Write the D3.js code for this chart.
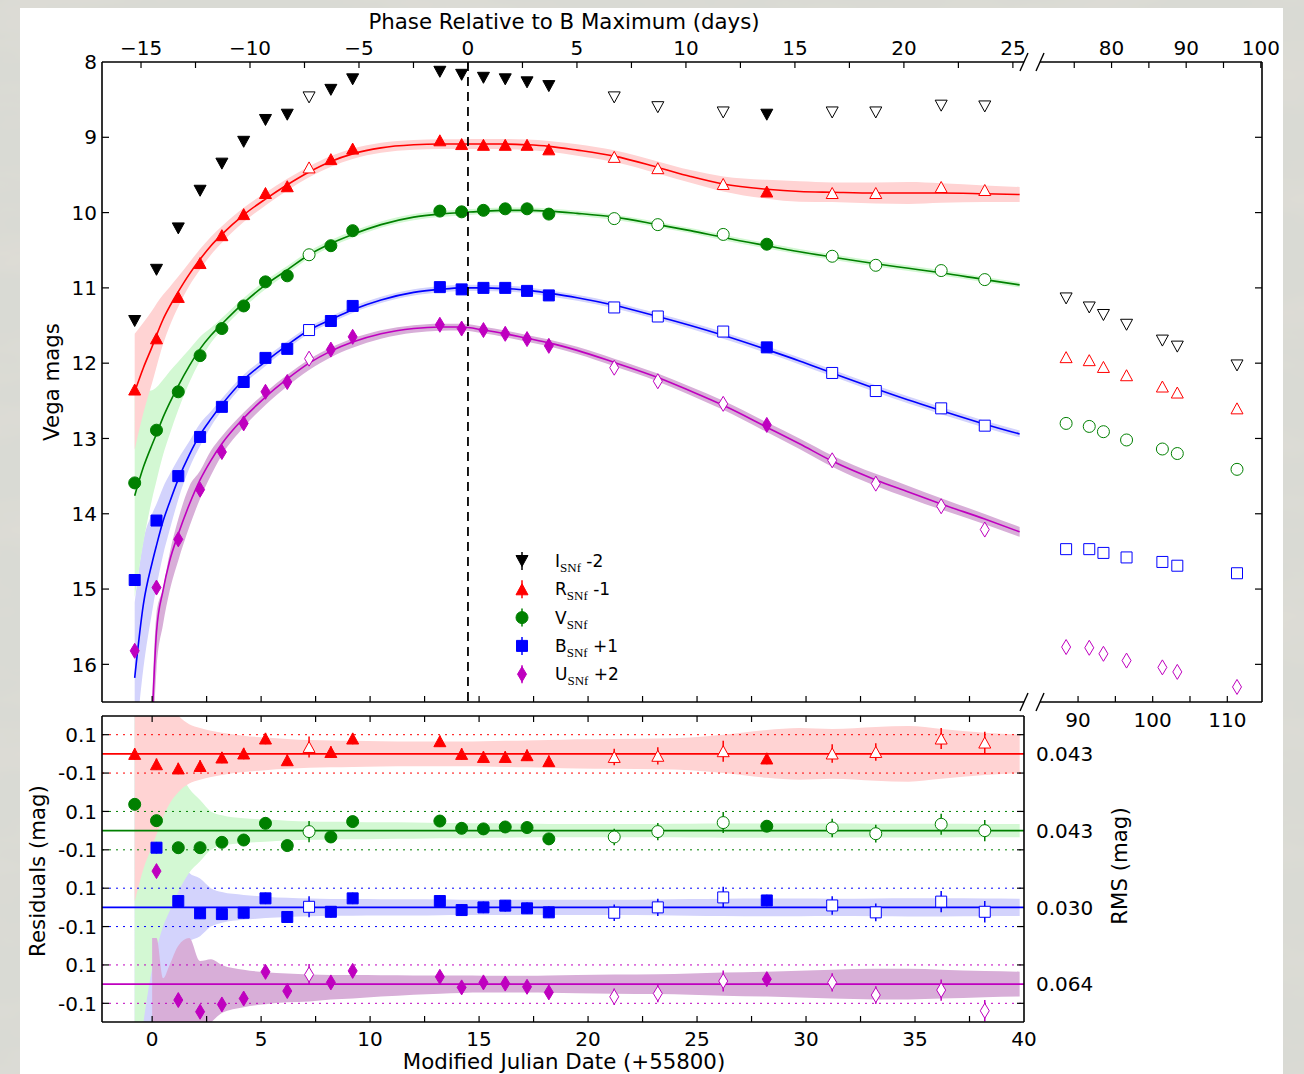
<!DOCTYPE html>
<html>
<head>
<meta charset="utf-8">
<script src="https://cdn.jsdelivr.net/npm/d3@7"></script>
<style>
  html, body { margin: 0; padding: 0; background: #dcdcd6; }
  svg { display: block; }
</style>
</head>
<body>
<svg id="chart" width="1304" height="1074"></svg>
<script>
// ---------------- data ----------------
// Epochs of the SNfactory spectrophotometry, MJD - 55800
const obsMjd  = [-0.8, 0.2, 1.2, 2.2, 3.2, 4.2, 5.2, 6.2, 7.2, 8.2, 9.2, 13.2, 14.2, 15.2, 16.2, 17.2, 18.2, 21.2, 23.2, 26.2, 28.2, 31.2, 33.2, 36.2, 38.2];
// 1 = open symbol, 0 = filled symbol
const obsOpen = [0, 0, 0, 0, 0, 0, 0, 0, 1, 0, 0, 0, 0, 0, 0, 0, 0, 1, 1, 1, 0, 1, 1, 1, 1];

// synthetic magnitudes as plotted (I-2, R-1, V, B+1, U+2)
const magI = [11.44, 10.76, 10.21, 9.71, 9.35, 9.06, 8.77, 8.70, 8.47, 8.37, 8.23, 8.13, 8.17, 8.21, 8.23, 8.27, 8.32, 8.47, 8.60, 8.67, 8.70, 8.67, 8.67, 8.58, 8.59];
const magR = [12.35, 11.67, 11.12, 10.67, 10.30, 10.02, 9.74, 9.65, 9.40, 9.29, 9.15, 9.04, 9.09, 9.10, 9.10, 9.10, 9.16, 9.26, 9.41, 9.62, 9.72, 9.74, 9.74, 9.66, 9.70];
const magV = [13.59, 12.89, 12.38, 11.90, 11.54, 11.24, 10.92, 10.84, 10.56, 10.44, 10.24, 9.98, 9.99, 9.97, 9.95, 9.95, 10.02, 10.08, 10.16, 10.29, 10.42, 10.58, 10.70, 10.77, 10.89];
const magB = [14.88, 14.09, 13.50, 12.98, 12.58, 12.25, 11.93, 11.81, 11.56, 11.44, 11.24, 10.99, 11.02, 11.00, 11.00, 11.04, 11.10, 11.26, 11.38, 11.58, 11.79, 12.13, 12.37, 12.60, 12.83];
const magU = [15.82, 14.98, 14.34, 13.68, 13.18, 12.80, 12.38, 12.25, 11.94, 11.82, 11.65, 11.49, 11.54, 11.56, 11.61, 11.68, 11.77, 12.06, 12.24, 12.54, 12.82, 13.29, 13.60, 13.90, 14.21];

// late-time epochs (right-hand panel)
const lateMjd = [88.4, 91.5, 93.4, 96.5, 101.3, 103.3, 111.3];
const lateI = [11.14, 11.26, 11.36, 11.49, 11.70, 11.78, 12.03];
const lateR = [11.92, 11.96, 12.05, 12.16, 12.31, 12.39, 12.60];
const lateV = [12.80, 12.84, 12.91, 13.02, 13.14, 13.20, 13.41];
const lateB = [14.47, 14.47, 14.52, 14.58, 14.64, 14.69, 14.79];
const lateU = [15.77, 15.78, 15.86, 15.95, 16.04, 16.10, 16.30];

// light-curve model, sampled on a common grid
const modelMjd = [-0.8, -0.4, 0.0, 0.2, 0.5, 0.8, 1.2, 1.7, 2.2, 2.7, 3.2, 4.2, 5.2, 6.2, 7.2, 8.2, 9.2, 10.5, 12.0, 13.2, 14.2, 15.2, 16.2, 17.2, 18.2, 19.5, 21.2, 23.2, 24.7, 26.2, 28.2, 29.7, 31.2, 33.2, 34.7, 36.2, 38.2, 39.8];
const modelR = [12.38, 12.06, 11.78, 11.63, 11.42, 11.25, 11.05, 10.82, 10.62, 10.44, 10.29, 10.03, 9.82, 9.63, 9.46, 9.32, 9.22, 9.14, 9.10, 9.09, 9.09, 9.09, 9.09, 9.10, 9.12, 9.17, 9.25, 9.40, 9.52, 9.62, 9.69, 9.72, 9.73, 9.74, 9.74, 9.74, 9.75, 9.76];
const modelV = [13.76, 13.38, 13.08, 12.94, 12.72, 12.53, 12.30, 12.04, 11.81, 11.63, 11.48, 11.20, 10.96, 10.76, 10.56, 10.41, 10.29, 10.16, 10.06, 10.02, 10.00, 9.98, 9.97, 9.97, 9.98, 10.01, 10.06, 10.16, 10.24, 10.33, 10.44, 10.52, 10.59, 10.68, 10.74, 10.80, 10.89, 10.96];
const modelB = [16.18, 15.20, 14.65, 14.42, 14.10, 13.85, 13.54, 13.22, 12.95, 12.74, 12.55, 12.22, 11.98, 11.76, 11.56, 11.42, 11.29, 11.16, 11.06, 11.02, 11.00, 11.00, 11.01, 11.03, 11.07, 11.13, 11.23, 11.38, 11.50, 11.63, 11.82, 11.97, 12.13, 12.34, 12.49, 12.63, 12.81, 12.94];
const modelU = [null, null, 16.75, 15.57, 15.02, 14.63, 14.27, 13.88, 13.55, 13.29, 13.07, 12.73, 12.45, 12.21, 12.00, 11.84, 11.72, 11.61, 11.54, 11.52, 11.52, 11.56, 11.61, 11.67, 11.73, 11.83, 11.99, 12.19, 12.37, 12.56, 12.85, 13.07, 13.30, 13.55, 13.71, 13.87, 14.07, 14.24];

// model uncertainty on the same grid: brighter-side and fainter-side widths (mag)
const bandRUp  = [0.77, 0.60, 0.48, 0.42, 0.33, 0.26, 0.20, 0.155, 0.135, 0.12, 0.11, 0.095, 0.085, 0.078, 0.072, 0.070, 0.068, 0.066, 0.065, 0.065, 0.065, 0.066, 0.068, 0.070, 0.072, 0.076, 0.078, 0.080, 0.085, 0.100, 0.125, 0.135, 0.130, 0.140, 0.145, 0.130, 0.110, 0.100];
const bandRLow = bandRUp;
const bandVUp  = [1.35, 1.00, 0.72, 0.62, 0.50, 0.42, 0.32, 0.22, 0.16, 0.10, 0.08, 0.065, 0.058, 0.052, 0.048, 0.046, 0.045, 0.043, 0.042, 0.040, 0.040, 0.038, 0.037, 0.036, 0.035, 0.035, 0.035, 0.035, 0.036, 0.037, 0.037, 0.037, 0.037, 0.036, 0.036, 0.036, 0.035, 0.035];
const bandVLow = bandVUp;
const bandBUp  = [1.00, 0.85, 0.65, 0.55, 0.45, 0.37, 0.27, 0.18, 0.15, 0.10, 0.08, 0.065, 0.056, 0.050, 0.046, 0.044, 0.043, 0.042, 0.042, 0.041, 0.040, 0.040, 0.040, 0.040, 0.040, 0.040, 0.040, 0.041, 0.043, 0.045, 0.046, 0.046, 0.045, 0.046, 0.047, 0.047, 0.046, 0.045];
const bandBLow = bandBUp;
const bandUUp  = [null, null, 0.24, 0.24, 0.03, 0.10, 0.20, 0.24, 0.12, 0.13, 0.10, 0.075, 0.062, 0.055, 0.050, 0.048, 0.047, 0.046, 0.045, 0.045, 0.045, 0.044, 0.044, 0.044, 0.045, 0.048, 0.050, 0.052, 0.056, 0.060, 0.065, 0.070, 0.075, 0.080, 0.080, 0.075, 0.068, 0.065];
const bandULow = [null, null, 0.50, 0.50, 0.45, 0.40, 0.35, 0.30, 0.25, 0.20, 0.15, 0.12, 0.105, 0.095, 0.09, 0.08, 0.075, 0.065, 0.055, 0.050, 0.046, 0.044, 0.044, 0.044, 0.045, 0.048, 0.050, 0.052, 0.056, 0.060, 0.065, 0.070, 0.075, 0.080, 0.080, 0.075, 0.068, 0.065];

// residuals (model - data, mag) and their errors
const resR = [0.000, -0.054, -0.076, -0.063, -0.019, 0.002, 0.080, -0.033, 0.036, 0.010, 0.080, 0.066, 0.000, -0.016, -0.016, -0.007, -0.038, -0.016, -0.010, 0.014, -0.024, 0.002, 0.010, 0.080, 0.059];
const resV = [0.137, 0.052, -0.089, -0.089, -0.061, -0.049, 0.038, -0.078, -0.005, -0.033, 0.047, 0.050, 0.012, 0.009, 0.019, 0.016, -0.043, -0.033, -0.005, 0.042, 0.023, 0.014, -0.016, 0.033, 0.000];
const resB = [null, 0.311, 0.033, -0.031, -0.035, -0.028, 0.047, -0.050, 0.003, -0.023, 0.047, 0.033, -0.014, 0.000, 0.009, -0.005, -0.026, -0.028, 0.000, 0.052, 0.036, 0.010, -0.026, 0.030, -0.023];
const resU = [null, 0.589, -0.083, -0.144, -0.106, -0.075, 0.064, -0.036, 0.050, 0.009, 0.069, 0.038, -0.017, 0.009, 0.003, -0.014, -0.043, -0.066, -0.049, 0.016, 0.026, 0.009, -0.057, -0.031, -0.139];
const resErr = [0.03, 0.03, 0.03, 0.03, 0.03, 0.03, 0.03, 0.03, 0.055, 0.03, 0.03, 0.03, 0.03, 0.03, 0.03, 0.03, 0.03, 0.043, 0.045, 0.055, 0.03, 0.048, 0.046, 0.055, 0.056];

// RMS of the residuals per band (R, V, B, U)
const rmsText = ["0.043", "0.043", "0.030", "0.064"];

// date of B-band maximum (MJD - 55800)
const bMaxMjd = 14.49;

// tick values
const mainMjdTicks  = d3.range(-2.5, 40.01, 2.5);
const mjdLabels     = [0, 5, 10, 15, 20, 25, 30, 35, 40];
const phaseTicks    = d3.range(-17.5, 25.6, 2.5);
const phaseLabels   = [-15, -10, -5, 0, 5, 10, 15, 20, 25];
const lateMjdTicks  = [85, 90, 95, 100, 105, 110];
const lateMjdLabels = [90, 100, 110];
const latePhaseTicks  = [75, 80, 85, 90, 95, 100];
const latePhaseLabels = [80, 90, 100];
const magTicks = [8, 9, 10, 11, 12, 13, 14, 15, 16];
const resTicks = [0.1, -0.1];

// ---------------- layout ----------------
const FONT = "'DejaVu Sans', 'Liberation Sans', sans-serif";
const main = { left: 102, right: 1024, top: 62, bottom: 702 };
const late = { left: 1040, right: 1262 };
const resP = { top: 716, bottom: 1022 };

const xMain = d3.scaleLinear().domain([-2.3, 40]).range([main.left, main.right]);
const xPhase = d3.scaleLinear().domain([-2.3 - bMaxMjd, 40 - bMaxMjd]).range([main.left, main.right]);
const xLate = d3.scaleLinear().domain([84.9, 114.65]).range([late.left, late.right]);
const xLatePhase = d3.scaleLinear().domain([84.9 - bMaxMjd, 114.65 - bMaxMjd]).range([late.left, late.right]);
const yMag = d3.scaleLinear().domain([8, 16.5]).range([main.top, main.bottom]);
const yRes = d3.scaleLinear().domain([-0.2, 1.4]).range([1022.5, 715.5]);

// per-filter styling, assembled from the arrays above
const filters = [
  { key: "I", color: "#000000", fill: null,      shape: "tdown", mags: magI, late: lateI },
  { key: "R", color: "#ff0000", fill: "#ffd3d3", shape: "tup",   mags: magR, late: lateR, model: modelR, up: bandRUp, low: bandRLow, res: resR, off: 1.2, rms: rmsText[0] },
  { key: "V", color: "#008000", fill: "#d3f8d3", shape: "circ",  mags: magV, late: lateV, model: modelV, up: bandVUp, low: bandVLow, res: resV, off: 0.8, rms: rmsText[1] },
  { key: "B", color: "#0000ff", fill: "#d3d3fc", shape: "sq",    mags: magB, late: lateB, model: modelB, up: bandBUp, low: bandBLow, res: resB, off: 0.4, rms: rmsText[2] },
  { key: "U", color: "#bf00bf", fill: "#d8aed8", shape: "dia",   mags: magU, late: lateU, model: modelU, up: bandUUp, low: bandULow, res: resU, off: 0.0, rms: rmsText[3] }
];
const byKey = Object.fromEntries(filters.map(f => [f.key, f]));

// marker outlines
function markerPath(shape, cx, cy) {
  switch (shape) {
    case "tup":   { const w = 12, h = 11; return `M${cx},${cy - h / 2}L${cx + w / 2},${cy + h / 2}L${cx - w / 2},${cy + h / 2}Z`; }
    case "tdown": { const w = 12, h = 11; return `M${cx},${cy + h / 2}L${cx + w / 2},${cy - h / 2}L${cx - w / 2},${cy - h / 2}Z`; }
    case "circ":  { const r = 6; return `M${cx - r},${cy}a${r},${r} 0 1,0 ${2 * r},0a${r},${r} 0 1,0 ${-2 * r},0Z`; }
    case "sq":    { const s = 11; return `M${cx - s / 2},${cy - s / 2}h${s}v${s}h${-s}Z`; }
    case "dia":   { const w = 9, h = 15; return `M${cx},${cy - h / 2}L${cx + w / 2},${cy}L${cx},${cy + h / 2}L${cx - w / 2},${cy}Z`; }
  }
}

const svg = d3.select("#chart");
const defs = svg.append("defs");

// marbled backdrop
const flt = defs.append("filter").attr("id", "marble").attr("x", 0).attr("y", 0).attr("width", "100%").attr("height", "100%");
flt.append("feTurbulence").attr("type", "fractalNoise").attr("baseFrequency", "0.006 0.018").attr("numOctaves", 4).attr("seed", 11).attr("result", "n");
flt.append("feColorMatrix").attr("in", "n").attr("type", "matrix")
  .attr("values", "0 0 0 0 0.74  0 0 0 0 0.72  0 0 0 0 0.67  1.6 0 0 0 -0.70");
svg.append("rect").attr("width", 1304).attr("height", 1074).attr("fill", "#d9dad4");
svg.append("rect").attr("width", 1304).attr("height", 1074).attr("filter", "url(#marble)");

// white card
svg.append("rect").attr("x", 20).attr("y", 8).attr("width", 1263).attr("height", 1070).attr("fill", "#ffffff");

// clip regions
defs.append("clipPath").attr("id", "clipMain").append("rect")
  .attr("x", main.left).attr("y", main.top).attr("width", main.right - main.left).attr("height", main.bottom - main.top);
defs.append("clipPath").attr("id", "clipLate").append("rect")
  .attr("x", late.left).attr("y", main.top).attr("width", late.right - late.left).attr("height", main.bottom - main.top);
defs.append("clipPath").attr("id", "clipRes").append("rect")
  .attr("x", main.left).attr("y", resP.top).attr("width", main.right - main.left).attr("height", resP.bottom - resP.top);

// ---------------- upper panel: light curves ----------------
const gMain = svg.append("g").attr("clip-path", "url(#clipMain)");
const bandOrder = ["B", "V", "U", "R"];

function modelRows(f) {
  return modelMjd.map((m, i) => ({ m, v: f.model[i], up: f.up[i], low: f.low[i] }));
}

bandOrder.forEach(k => {
  const f = byKey[k];
  const area = d3.area()
    .defined(d => d.v != null)
    .x(d => xMain(d.m))
    .y0(d => yMag(d.v + d.low))
    .y1(d => yMag(d.v - d.up))
    .curve(d3.curveMonotoneX);
  gMain.append("path").attr("d", area(modelRows(f))).attr("fill", f.fill);
});

["R", "V", "B", "U"].forEach(k => {
  const f = byKey[k];
  const line = d3.line()
    .defined(d => d.v != null)
    .x(d => xMain(d.m))
    .y(d => yMag(d.v))
    .curve(d3.curveMonotoneX);
  gMain.append("path").attr("d", line(modelRows(f)))
    .attr("fill", "none").attr("stroke", f.color).attr("stroke-width", 1.6);
});

filters.forEach(f => {
  gMain.append("g").selectAll("path")
    .data(obsMjd.map((m, i) => ({ m, v: f.mags[i], open: obsOpen[i] })))
    .join("path")
    .attr("d", d => markerPath(f.shape, xMain(d.m), yMag(d.v)))
    .attr("fill", d => d.open ? "#ffffff" : f.color)
    .attr("stroke", f.color).attr("stroke-width", 1);
});

// time of B maximum
svg.append("line")
  .attr("x1", xMain(bMaxMjd)).attr("x2", xMain(bMaxMjd))
  .attr("y1", main.top).attr("y2", main.bottom)
  .attr("stroke", "#000").attr("stroke-width", 1.8).attr("stroke-dasharray", "9,6");

// late-time points
const gLate = svg.append("g").attr("clip-path", "url(#clipLate)");
filters.forEach(f => {
  gLate.append("g").selectAll("path")
    .data(lateMjd.map((m, i) => ({ m, v: f.late[i] })))
    .join("path")
    .attr("d", d => markerPath(f.shape, xLate(d.m), yMag(d.v)))
    .attr("fill", "#ffffff").attr("stroke", f.color).attr("stroke-width", 1);
});

// ---------------- lower panel: residuals ----------------
const gRes = svg.append("g").attr("clip-path", "url(#clipRes)");
bandOrder.forEach(k => {
  const f = byKey[k];
  const area = d3.area()
    .defined(d => d.v != null)
    .x(d => xMain(d.m))
    .y0(d => yRes(f.off - d.low))
    .y1(d => yRes(f.off + d.up))
    .curve(d3.curveMonotoneX);
  gRes.append("path").attr("d", area(modelRows(f))).attr("fill", f.fill);
});

["R", "V", "B", "U"].forEach(k => {
  const f = byKey[k];
  resTicks.forEach(t => {
    gRes.append("line")
      .attr("x1", main.left).attr("x2", main.right)
      .attr("y1", yRes(f.off + t)).attr("y2", yRes(f.off + t))
      .attr("stroke", f.color).attr("stroke-width", 1).attr("stroke-dasharray", "2,5");
  });
  gRes.append("line")
    .attr("x1", main.left).attr("x2", main.right)
    .attr("y1", yRes(f.off)).attr("y2", yRes(f.off))
    .attr("stroke", f.color).attr("stroke-width", 1.6);
});

["R", "V", "B", "U"].forEach(k => {
  const f = byKey[k];
  const pts = obsMjd.map((m, i) => ({ m, r: f.res[i], e: resErr[i], open: obsOpen[i] })).filter(d => d.r != null);
  const g = gRes.append("g");
  g.selectAll("line").data(pts).join("line")
    .attr("x1", d => xMain(d.m)).attr("x2", d => xMain(d.m))
    .attr("y1", d => yRes(f.off + d.r - d.e)).attr("y2", d => yRes(f.off + d.r + d.e))
    .attr("stroke", f.color).attr("stroke-width", 1.5);
  g.selectAll("path").data(pts).join("path")
    .attr("d", d => markerPath(f.shape, xMain(d.m), yRes(f.off + d.r)))
    .attr("fill", d => d.open ? "#ffffff" : f.color)
    .attr("stroke", f.color).attr("stroke-width", 1);
});

// ---------------- axes ----------------
const axes = svg.append("g").attr("stroke", "#000").attr("fill", "none");
const SPINE = 1.6;
function seg(x1, y1, x2, y2, w) {
  axes.append("line").attr("x1", x1).attr("y1", y1).attr("x2", x2).attr("y2", y2).attr("stroke-width", w || SPINE);
}
function vticks(scale, vals, y, len) { vals.forEach(v => { const x = scale(v); seg(x, y, x, y + len, 1.2); }); }
function hticks(scale, vals, x, len) { vals.forEach(v => { const y = scale(v); seg(x, y, x + len, y, 1.2); }); }

// upper-left spines
seg(main.left, main.top, main.left, main.bottom);
seg(main.left, main.top, main.right, main.top);
seg(main.left, main.bottom, main.right, main.bottom);
// upper-right spines
seg(late.left, main.top, late.right, main.top);
seg(late.right, main.top, late.right, main.bottom);
seg(late.left, main.bottom, late.right, main.bottom);
// axis-break marks
[[main.right, main.top], [main.right, main.bottom], [late.left, main.top], [late.left, main.bottom]].forEach(([x, y]) => {
  seg(x - 4, y + 9, x + 4, y - 9, 1.4);
});
// residual box
seg(main.left, resP.top, main.right, resP.top);
seg(main.left, resP.bottom, main.right, resP.bottom);
seg(main.left, resP.top, main.left, resP.bottom);
seg(main.right, resP.top, main.right, resP.bottom);

// ticks (pointing inward)
const inMain = v => xMain(v) > main.left + 1 && xMain(v) < main.right - 1;
vticks(xPhase, phaseTicks.filter(v => xPhase(v) > main.left + 1 && xPhase(v) < main.right - 1), main.top, 6);
vticks(xMain, mainMjdTicks.filter(inMain), main.bottom, -6);
hticks(yMag, magTicks.filter(v => v > 8), main.left, 7);
vticks(xLatePhase, latePhaseTicks, main.top, 6);
vticks(xLate, lateMjdTicks.filter(v => xLate(v) > late.left + 1), main.bottom, -6);
hticks(yMag, magTicks.filter(v => v > 8), late.right, -7);
vticks(xMain, mainMjdTicks.filter(inMain), resP.top, 6);
vticks(xMain, mainMjdTicks.filter(inMain), resP.bottom, -6);
filters.filter(f => f.res).forEach(f => {
  resTicks.forEach(t => {
    const y = yRes(f.off + t);
    seg(main.left, y, main.left + 7, y, 1.2);
    seg(main.right, y, main.right - 7, y, 1.2);
  });
});

// ---------------- text ----------------
const txt = svg.append("g").attr("font-family", FONT).attr("font-size", 20).attr("fill", "#000");
const fmtPhase = v => (v < 0 ? "\u2212" + Math.abs(v) : String(v));

phaseLabels.forEach(v => txt.append("text").attr("x", xPhase(v)).attr("y", 55).attr("text-anchor", "middle").text(fmtPhase(v)));
latePhaseLabels.forEach(v => txt.append("text").attr("x", xLatePhase(v)).attr("y", 55).attr("text-anchor", "middle").text(v));
magTicks.forEach(v => txt.append("text").attr("x", 97).attr("y", yMag(v)).attr("dy", "0.36em").attr("text-anchor", "end").text(v));
lateMjdLabels.forEach(v => txt.append("text").attr("x", xLate(v)).attr("y", 727).attr("text-anchor", "middle").text(v));
mjdLabels.forEach(v => txt.append("text").attr("x", xMain(v)).attr("y", 1046).attr("text-anchor", "middle").text(v));
filters.filter(f => f.res).forEach(f => {
  resTicks.forEach(t => {
    txt.append("text").attr("x", 97).attr("y", yRes(f.off + t)).attr("dy", "0.36em")
      .attr("text-anchor", "end").text(t > 0 ? "0.1" : "-0.1");
  });
  txt.append("text").attr("x", 1036).attr("y", yRes(f.off)).attr("dy", "0.36em").text(f.rms);
});

const titles = txt.append("g").attr("font-size", 21.3);
titles.append("text").attr("x", 564).attr("y", 29).attr("text-anchor", "middle").text("Phase Relative to B Maximum (days)");
titles.append("text").attr("x", 564).attr("y", 1069).attr("text-anchor", "middle").text("Modified Julian Date (+55800)");
titles.append("text").attr("transform", "translate(59,382) rotate(-90)").attr("text-anchor", "middle").text("Vega mags");
titles.append("text").attr("transform", "translate(45,871) rotate(-90)").attr("text-anchor", "middle").text("Residuals (mag)");
titles.append("text").attr("transform", "translate(1127,866) rotate(-90)").attr("text-anchor", "middle").text("RMS (mag)");

// ---------------- legend ----------------
const legendRows = [
  { key: "I", suffix: " -2" },
  { key: "R", suffix: " -1" },
  { key: "V", suffix: "" },
  { key: "B", suffix: " +1" },
  { key: "U", suffix: " +2" }
];
const leg = svg.append("g");
legendRows.forEach((r, i) => {
  const f = byKey[r.key];
  const cy = 561 + i * 28.3, cx = 522;
  leg.append("line").attr("x1", cx).attr("x2", cx).attr("y1", cy - 9).attr("y2", cy + 9)
    .attr("stroke", f.color).attr("stroke-width", 1.5);
  leg.append("path").attr("d", markerPath(f.shape, cx, cy)).attr("fill", f.color).attr("stroke", f.color);
  const t = leg.append("text").attr("x", 555).attr("y", cy + 6)
    .attr("font-family", FONT).attr("font-size", 17).attr("fill", "#000");
  t.append("tspan").text(r.key);
  t.append("tspan").attr("dy", 5).attr("font-size", 13)
    .attr("font-family", "'Liberation Serif', 'DejaVu Serif', serif").text("SNf");
  if (r.suffix) t.append("tspan").attr("dy", -5).text(r.suffix);
});
</script>
</body>
</html>
